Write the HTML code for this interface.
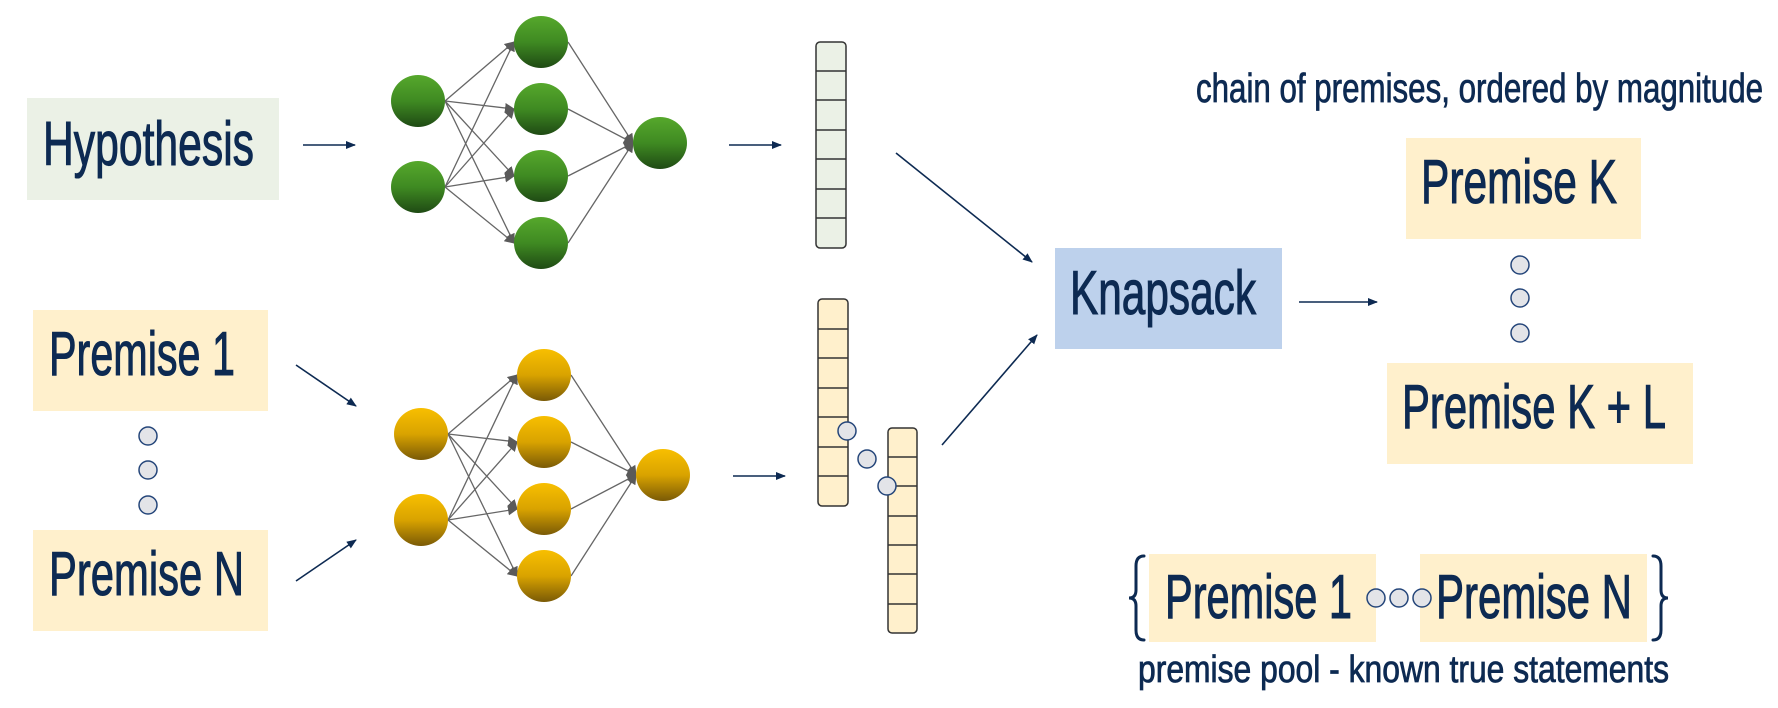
<!DOCTYPE html>
<html><head><meta charset="utf-8"><style>
html,body{margin:0;padding:0;background:#fff;width:1778px;height:708px;overflow:hidden}
svg text{font-family:"Liberation Sans",sans-serif;fill:#0d2a52;stroke:#0d2a52;stroke-width:1.1}
</style></head><body>
<svg width="1778" height="708" viewBox="0 0 1778 708" xmlns="http://www.w3.org/2000/svg">
<defs>
<linearGradient id="gg" x1="0" y1="0" x2="0" y2="1"><stop offset="0" stop-color="#56a82c"/><stop offset="0.5" stop-color="#3f8a22"/><stop offset="1" stop-color="#1f4a14"/></linearGradient>
<linearGradient id="yg" x1="0" y1="0" x2="0" y2="1"><stop offset="0" stop-color="#f8bf00"/><stop offset="0.5" stop-color="#d9a300"/><stop offset="1" stop-color="#7a5a06"/></linearGradient>
<marker id="ga" markerWidth="10" markerHeight="10" refX="9" refY="5" orient="auto" markerUnits="userSpaceOnUse"><path d="M0,0 L10,5 L0,10 z" fill="#5a5a5a"/></marker>
<marker id="na" markerWidth="10" markerHeight="10" refX="9" refY="5" orient="auto" markerUnits="userSpaceOnUse"><path d="M0,1 L10,5 L0,9 z" fill="#0d2a52"/></marker>
</defs>

<rect x="27" y="98" width="252" height="102" fill="#ebf1e6"/>
<rect x="33" y="310" width="235" height="101" fill="#fff0cc"/>
<rect x="33" y="530" width="235" height="101" fill="#fff0cc"/>
<rect x="1055" y="248" width="227" height="101" fill="#bdd1ec"/>
<rect x="1406" y="138" width="235" height="101" fill="#fff0cc"/>
<rect x="1387" y="363" width="306" height="101" fill="#fff0cc"/>
<rect x="1149" y="554" width="227" height="88" fill="#fff0cc"/>
<rect x="1420" y="554" width="227" height="88" fill="#fff0cc"/>

<text x="43" y="165" font-size="62" textLength="211" lengthAdjust="spacingAndGlyphs">Hypothesis</text>
<text x="49" y="375" font-size="62" textLength="186" lengthAdjust="spacingAndGlyphs">Premise 1</text>
<text x="49" y="595" font-size="62" textLength="195" lengthAdjust="spacingAndGlyphs">Premise N</text>
<text x="1070" y="314" font-size="62" textLength="186" lengthAdjust="spacingAndGlyphs">Knapsack</text>
<text x="1421" y="203" font-size="62" textLength="196" lengthAdjust="spacingAndGlyphs">Premise K</text>
<text x="1402" y="428" font-size="62" textLength="264" lengthAdjust="spacingAndGlyphs">Premise K + L</text>
<text x="1165" y="618" font-size="62" textLength="187" lengthAdjust="spacingAndGlyphs">Premise 1</text>
<text x="1436" y="618" font-size="62" textLength="196" lengthAdjust="spacingAndGlyphs">Premise N</text>
<text x="1196" y="102" font-size="41" textLength="567" lengthAdjust="spacingAndGlyphs" style="stroke-width:0.8">chain of premises, ordered by magnitude</text>
<text x="1138" y="682" font-size="38" textLength="531" lengthAdjust="spacingAndGlyphs" style="stroke-width:0.8">premise pool - known true statements</text>

<!-- braces -->
<g stroke="#0d2a52" stroke-width="3" fill="none" stroke-linecap="round">
<path d="M1144,556 Q1136,556 1136,566 L1136,590 Q1136,598 1129,598 Q1136,598 1136,606 L1136,630 Q1136,640 1144,640"/>
<path d="M1653,556 Q1661,556 1661,566 L1661,590 Q1661,598 1668,598 Q1661,598 1661,606 L1661,630 Q1661,640 1653,640"/>
</g>

<g stroke="#0d2a52" stroke-width="1.6" fill="none" marker-end="url(#na)">
<line x1="303" y1="145" x2="355" y2="145"/>
<line x1="729" y1="145" x2="781" y2="145"/>
<line x1="296" y1="365" x2="356" y2="406"/>
<line x1="296" y1="581" x2="356" y2="540"/>
<line x1="733" y1="476" x2="785" y2="476"/>
<line x1="896" y1="153" x2="1032" y2="262"/>
<line x1="942" y1="445" x2="1037" y2="335"/>
<line x1="1299" y1="302" x2="1377" y2="302"/>
</g>

<g stroke="#666" stroke-width="1.3" marker-end="url(#ga)">
<line x1="445" y1="101" x2="514" y2="42"/><line x1="445" y1="101" x2="514" y2="109"/><line x1="445" y1="101" x2="514" y2="176"/><line x1="445" y1="101" x2="514" y2="243"/>
<line x1="445" y1="187" x2="514" y2="42"/><line x1="445" y1="187" x2="514" y2="109"/><line x1="445" y1="187" x2="514" y2="176"/><line x1="445" y1="187" x2="514" y2="243"/>
<line x1="568" y1="42" x2="633" y2="143"/><line x1="568" y1="109" x2="633" y2="143"/><line x1="568" y1="176" x2="633" y2="143"/><line x1="568" y1="243" x2="633" y2="143"/>
<line x1="448" y1="434" x2="517" y2="375"/><line x1="448" y1="434" x2="517" y2="442"/><line x1="448" y1="434" x2="517" y2="509"/><line x1="448" y1="434" x2="517" y2="576"/>
<line x1="448" y1="520" x2="517" y2="375"/><line x1="448" y1="520" x2="517" y2="442"/><line x1="448" y1="520" x2="517" y2="509"/><line x1="448" y1="520" x2="517" y2="576"/>
<line x1="571" y1="375" x2="636" y2="475"/><line x1="571" y1="442" x2="636" y2="475"/><line x1="571" y1="509" x2="636" y2="475"/><line x1="571" y1="576" x2="636" y2="475"/>
</g>
<g fill="url(#gg)">
<ellipse cx="418" cy="101" rx="27" ry="26"/><ellipse cx="418" cy="187" rx="27" ry="26"/>
<ellipse cx="541" cy="42" rx="27" ry="26"/><ellipse cx="541" cy="109" rx="27" ry="26"/><ellipse cx="541" cy="176" rx="27" ry="26"/><ellipse cx="541" cy="243" rx="27" ry="26"/>
<ellipse cx="660" cy="143" rx="27" ry="26"/>
</g>
<g fill="url(#yg)">
<ellipse cx="421" cy="434" rx="27" ry="26"/><ellipse cx="421" cy="520" rx="27" ry="26"/>
<ellipse cx="544" cy="375" rx="27" ry="26"/><ellipse cx="544" cy="442" rx="27" ry="26"/><ellipse cx="544" cy="509" rx="27" ry="26"/><ellipse cx="544" cy="576" rx="27" ry="26"/>
<ellipse cx="663" cy="475" rx="27" ry="26"/>
</g>

<g stroke="#333" stroke-width="1.5">
<rect x="816" y="42" width="30" height="206" rx="4" fill="#ebf1e6"/>
<line x1="816" y1="71" x2="846" y2="71"/><line x1="816" y1="100" x2="846" y2="100"/><line x1="816" y1="130" x2="846" y2="130"/><line x1="816" y1="159" x2="846" y2="159"/><line x1="816" y1="189" x2="846" y2="189"/><line x1="816" y1="218" x2="846" y2="218"/>
<rect x="818" y="299" width="30" height="207" rx="4" fill="#fff0cc"/>
<line x1="818" y1="329" x2="848" y2="329"/><line x1="818" y1="358" x2="848" y2="358"/><line x1="818" y1="388" x2="848" y2="388"/><line x1="818" y1="417" x2="848" y2="417"/><line x1="818" y1="447" x2="848" y2="447"/><line x1="818" y1="476" x2="848" y2="476"/>
<rect x="888" y="428" width="29" height="205" rx="4" fill="#fff0cc"/>
<line x1="888" y1="457" x2="917" y2="457"/><line x1="888" y1="486" x2="917" y2="486"/><line x1="888" y1="516" x2="917" y2="516"/><line x1="888" y1="545" x2="917" y2="545"/><line x1="888" y1="574" x2="917" y2="574"/><line x1="888" y1="604" x2="917" y2="604"/>
</g>

<g fill="#e3e4e8" stroke="#25467a" stroke-width="1.5">
<circle cx="847" cy="431" r="9"/><circle cx="867" cy="459" r="9"/><circle cx="887" cy="486" r="9"/>
<circle cx="148" cy="436" r="9"/><circle cx="148" cy="470" r="9"/><circle cx="148" cy="505" r="9"/>
<circle cx="1520" cy="265" r="9"/><circle cx="1520" cy="298" r="9"/><circle cx="1520" cy="333" r="9"/>
<circle cx="1376" cy="598" r="9"/><circle cx="1399" cy="598" r="9"/><circle cx="1422" cy="598" r="9"/>
</g>
</svg>
</body></html>
